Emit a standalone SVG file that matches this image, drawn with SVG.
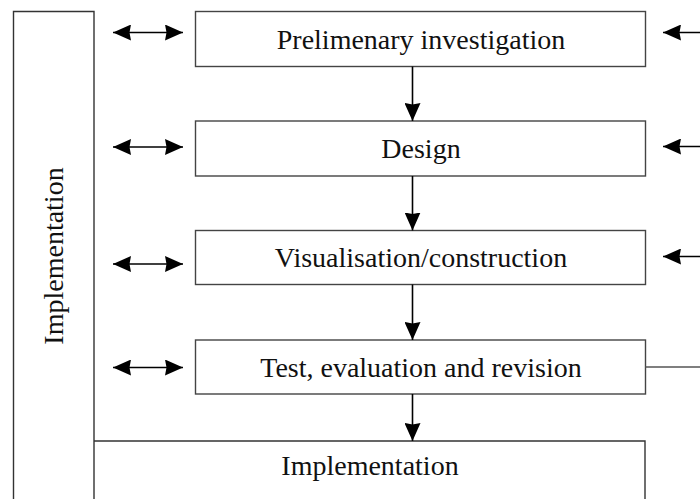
<svg xmlns="http://www.w3.org/2000/svg" width="700" height="499" viewBox="0 0 700 499">
<defs>
<marker id="ah" viewBox="0 0 18 16" refX="18" refY="8" markerWidth="18" markerHeight="16" markerUnits="userSpaceOnUse" orient="auto-start-reverse">
<path d="M0,0 L18,8 L0,16 L1.5,8 Z" fill="#000"/>
</marker>
</defs>
<style>
.box{fill:#fff;stroke:#444;stroke-width:1.4}
.frame{fill:none;stroke:#333;stroke-width:1.4}
.lbl{font-family:"Liberation Serif","Times New Roman",serif;font-size:28px;fill:#111;text-anchor:middle}
.c{fill:none;stroke:#000;stroke-width:1.6}
.c1{fill:none;stroke:#555;stroke-width:1.3}
</style>
<rect width="700" height="499" fill="#fff"/>
<g id="impl-side">
<path class="frame" d="M13.5,499 V11.5 H94 V499"/>
<text class="lbl" transform="translate(63,256) rotate(-90)" x="0" y="0">Implementation</text>
</g>
<g id="impl-bottom">
<path class="frame" d="M94,441 H645 V499"/>
<text class="lbl" x="370" y="475">Implementation</text>
</g>
<g id="n1">
<rect class="box" x="195.5" y="11.5" width="450" height="55"/>
<text class="lbl" x="421" y="48.5">Prelimenary investigation</text>
</g>
<g id="n2">
<rect class="box" x="195.5" y="121" width="450" height="55"/>
<text class="lbl" x="421" y="157.5">Design</text>
</g>
<g id="n3">
<rect class="box" x="195.5" y="230.5" width="450" height="54"/>
<text class="lbl" x="421" y="267">Visualisation/construction</text>
</g>
<g id="n4">
<rect class="box" x="195.5" y="340" width="450" height="54"/>
<text class="lbl" x="421" y="376.5">Test, evaluation and revision</text>
</g>
<g id="connectors">
<line class="c" x1="412.5" y1="66.5" x2="412.5" y2="121" marker-end="url(#ah)"/>
<line class="c" x1="412.5" y1="176" x2="412.5" y2="230.5" marker-end="url(#ah)"/>
<line class="c" x1="412.5" y1="284.5" x2="412.5" y2="340" marker-end="url(#ah)"/>
<line class="c" x1="412.5" y1="394" x2="412.5" y2="441" marker-end="url(#ah)"/>
<line class="c" x1="113" y1="32.5" x2="183" y2="32.5" marker-start="url(#ah)" marker-end="url(#ah)"/>
<line class="c" x1="113" y1="147" x2="183" y2="147" marker-start="url(#ah)" marker-end="url(#ah)"/>
<line class="c" x1="113" y1="264" x2="183" y2="264" marker-start="url(#ah)" marker-end="url(#ah)"/>
<line class="c" x1="113" y1="367.5" x2="183" y2="367.5" marker-start="url(#ah)" marker-end="url(#ah)"/>
<line class="c" x1="700" y1="32.5" x2="663" y2="32.5" marker-end="url(#ah)"/>
<line class="c" x1="700" y1="146.5" x2="663" y2="146.5" marker-end="url(#ah)"/>
<line class="c" x1="700" y1="256.5" x2="663" y2="256.5" marker-end="url(#ah)"/>
<line class="c1" x1="645.5" y1="367" x2="700" y2="367"/>
</g>
</svg>
